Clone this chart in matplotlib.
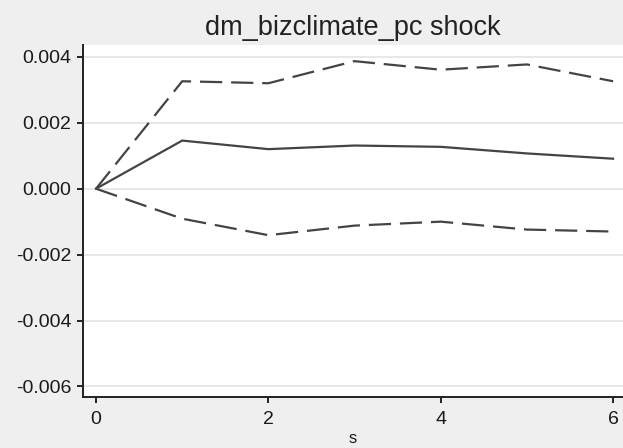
import matplotlib.pyplot as plt
from matplotlib.ticker import FormatStrFormatter

plt.rcParams['font.family'] = ['Liberation Sans', 'DejaVu Sans']
plt.rcParams['axes.unicode_minus'] = False

# impulse response and its confidence band
steps = [0, 1, 2, 3, 4, 5, 6]
irf = [0.0, 0.00146, 0.00120, 0.00131, 0.00127, 0.00107, 0.00091]
upper = [0.0, 0.00326, 0.00320, 0.00387, 0.00361, 0.00377, 0.00326]
lower = [0.0, -0.00091, -0.00141, -0.00112, -0.00100, -0.00124, -0.00130]
yticks = [0.004, 0.002, 0.000, -0.002, -0.004, -0.006]
xticks = [0, 2, 4, 6]

bg = '#efefef'
ink = '#444444'

fig = plt.figure(figsize=(6.23, 4.48), dpi=100, facecolor=bg)
ax = fig.add_axes([83 / 623, 51 / 448, 1 - 83 / 623, 352 / 448])
ax.set_facecolor('white')

ax.plot(steps, irf, color=ink, lw=1.6, solid_joinstyle='miter')
ax.plot(steps, upper, color=ink, lw=1.6, dashes=(10, 4))
ax.plot(steps, lower, color=ink, lw=1.6, dashes=(10, 4))

ax.set_xlim(-0.151, 6.115)
ax.set_ylim(-0.00632, 0.00436)
ax.set_xticks(xticks)
ax.set_yticks(yticks)
ax.yaxis.set_major_formatter(FormatStrFormatter('%.3f'))
ax.grid(axis='y', color='#e6e6e6', lw=1.3)
ax.set_axisbelow(True)

for side in ['top', 'right']:
    ax.spines[side].set_visible(False)
for side in ['left', 'bottom']:
    ax.spines[side].set_color('#222222')
    ax.spines[side].set_linewidth(1.4)
ax.tick_params(axis='both', length=4.5, width=1.4, color='#222222',
               labelsize=14, labelcolor='#1a1a1a')
ax.tick_params(axis='y', pad=4)
ax.tick_params(axis='x', pad=5.5)

ax.set_title('dm_bizclimate_pc shock', fontsize=19.5, color='#222222', pad=7)
fig.text((83 + 623) / 2 / 623, 5 / 448, 's', fontsize=12, color='#1a1a1a',
         ha='center', va='baseline')

fig.savefig('out.png', dpi=100, facecolor=bg)
